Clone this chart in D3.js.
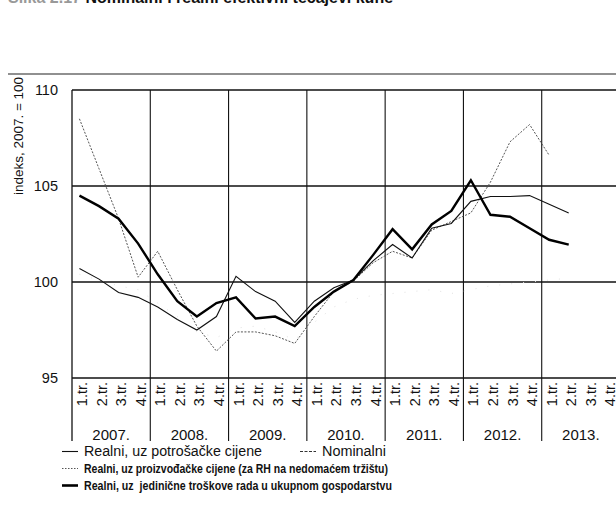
<!DOCTYPE html>
<html><head><meta charset="utf-8">
<script src="https://cdn.jsdelivr.net/npm/d3@7"></script>
<style>
body{margin:0;background:#fff}
svg{display:block}
text{font-family:"Liberation Sans",Arial,sans-serif;fill:#111}
</style>
</head><body><svg id="c" width="616" height="506"></svg>
<script>
// ---- data ----
const years = ["2007.","2008.","2009.","2010.","2011.","2012.","2013."];
const quarterLabels = ["1.tr.","2.tr.","3.tr.","4.tr."];
const yTicks = [95,100,105,110];
const realCPI = [100.7,100.15,99.45,99.2, 98.7,98.05,97.5,98.2, 100.3,99.5,99.0,97.9, 99.0,99.7,100.1,101.1, 101.95,101.25,102.8,103.05, 104.2,104.45,104.45,104.5, 104.05,103.6,null,null];
const nominal = [100.4,100.1,99.8,99.6, 98.9,98.2,97.4,97.1, 97.6,97.7,97.4,97.0, 97.9,98.7,99.1,99.3, 99.4,99.5,99.6,99.4, 99.6,99.8,99.9,100.0, 100.1,100.2,null,null];
const realPPI = [108.5,105.9,103.3,100.25, 101.6,99.6,97.7,96.4, 97.4,97.4,97.2,96.8, 98.2,99.5,100.05,101.0, 101.6,101.25,102.7,103.15, 103.6,105.2,107.3,108.2, 106.6,null,null,null];
const realULC = [104.5,103.95,103.3,102.0, 100.4,99.0,98.2,98.9, 99.2,98.1,98.2,97.7, 98.7,99.5,100.1,101.4, 102.75,101.7,103.0,103.7, 105.3,103.5,103.4,102.8, 102.2,101.95,null,null];
const titleGrey = "Slika 2.17";
const titleText = "Nominalni i realni efektivni tečajevi kune";
const yTitle = "indeks, 2007. = 100";
const legendCPI = "Realni, uz potrošačke cijene";
const legendNom = "Nominalni";
const legendPPI = "Realni, uz proizvođačke cijene (za RH na nedomaćem tržištu)";
const legendULC = "Realni, uz  jedinične troškove rada u ukupnom gospodarstvu";

// ---- build ----
const quarters = [];
years.forEach((y,yi)=>quarterLabels.forEach((q,qi)=>quarters.push({id:y+q, year:y, q, yi, qi})));

const svg = d3.select("#c");
const L=72, R=620, T=90, B=378;
const x = d3.scaleBand().domain(quarters.map(d=>d.id)).range([L,R]);
const bw = x.bandwidth();
const px = id => x(id) + bw*0.38;
const y = d3.scaleLinear().domain([95,110]).range([B,T]);

// title (cut off at top, as in the source)
const tt = svg.append("text").attr("x",8).attr("y",3).style("font-size","16px").style("font-weight","bold");
tt.append("tspan").style("fill","#999").text(titleGrey+" ");
tt.append("tspan").text(titleText);

// top rule
svg.append("line").attr("x1",8).attr("x2",616).attr("y1",74).attr("y2",74).attr("stroke","#222").attr("stroke-width",1.2);

// horizontal grid
svg.append("g").selectAll("line").data(yTicks).join("line")
  .attr("x1",L).attr("x2",616).attr("y1",d=>y(d)).attr("y2",d=>y(d))
  .attr("stroke","#111").attr("stroke-width",1.3);

// vertical year separators
const yearStarts = quarters.filter(d=>d.qi===0);
svg.append("g").selectAll("line").data(yearStarts).join("line")
  .attr("x1",d=>x(d.id)).attr("x2",d=>x(d.id)).attr("y1",T).attr("y2",441)
  .attr("stroke","#111").attr("stroke-width",d=>d.yi===0?1.3:1.1);

// y tick labels
svg.append("g").selectAll("text").data(yTicks).join("text")
  .attr("x",58).attr("y",d=>y(d)).attr("dy","0.35em").attr("text-anchor","end")
  .style("font-size","14.5px").text(d=>d);

// y title
svg.append("text").attr("transform","translate(23,136) rotate(-90)").attr("text-anchor","middle")
  .style("font-size","13.5px").text(yTitle);

// quarter labels
svg.append("g").selectAll("text").data(quarters).join("text")
  .attr("transform",d=>`translate(${x(d.id)+bw/2},382) rotate(-90)`)
  .attr("dy","0.36em").attr("text-anchor","end").style("font-size","14.5px").text(d=>d.q);

// year labels
svg.append("g").selectAll("text").data(yearStarts).join("text")
  .attr("x",d=>x(d.id)+bw*2).attr("y",440).attr("text-anchor","middle")
  .style("font-size","15px").text(d=>d.year);

// lines
const line = d3.line().defined(d=>d.v!=null).x(d=>px(d.id)).y(d=>y(d.v));
const mk = arr => quarters.map((q,i)=>({id:q.id, v:arr[i]}));
svg.append("path").datum(mk(nominal)).attr("d",line).attr("fill","none")
  .attr("stroke","#e2e2e2").attr("stroke-width",1).attr("stroke-dasharray","1,11");
svg.append("path").datum(mk(realPPI)).attr("d",line).attr("fill","none")
  .attr("stroke","#555").attr("stroke-width",1).attr("stroke-dasharray","2,1.5");
svg.append("path").datum(mk(realCPI)).attr("d",line).attr("fill","none")
  .attr("stroke","#111").attr("stroke-width",1.1);
svg.append("path").datum(mk(realULC)).attr("d",line).attr("fill","none")
  .attr("stroke","#000").attr("stroke-width",2.4);

// legend
const lg = svg.append("g");
const legendRows = [
  {x:62, y:456, t:legendCPI, w:1.1, c:"#111", dash:null, len:178, fw:"normal", fs:14},
  {x:300,y:456, t:legendNom, w:1, c:"#333", dash:"3,1.5", len:64, fw:"normal", fs:14},
  {x:62, y:473, t:legendPPI, w:1, c:"#555", dash:"1.5,1.5", len:304, fw:"bold", fs:13.5},
  {x:62, y:490, t:legendULC, w:2.6, c:"#000", dash:null, len:308, fw:"bold", fs:13.5}
];
legendRows.forEach(r=>{
  lg.append("line").attr("x1",r.x).attr("x2",r.x+16).attr("y1",r.y-4.5).attr("y2",r.y-4.5)
    .attr("stroke",r.c).attr("stroke-width",r.w).attr("stroke-dasharray",r.dash);
  lg.append("text").attr("x",r.x+22).attr("y",r.y).style("white-space","pre")
    .style("font-size",r.fs+"px").style("font-weight",r.fw)
    .attr("textLength",r.len).attr("lengthAdjust","spacingAndGlyphs").text(r.t);
});
</script></body></html>
